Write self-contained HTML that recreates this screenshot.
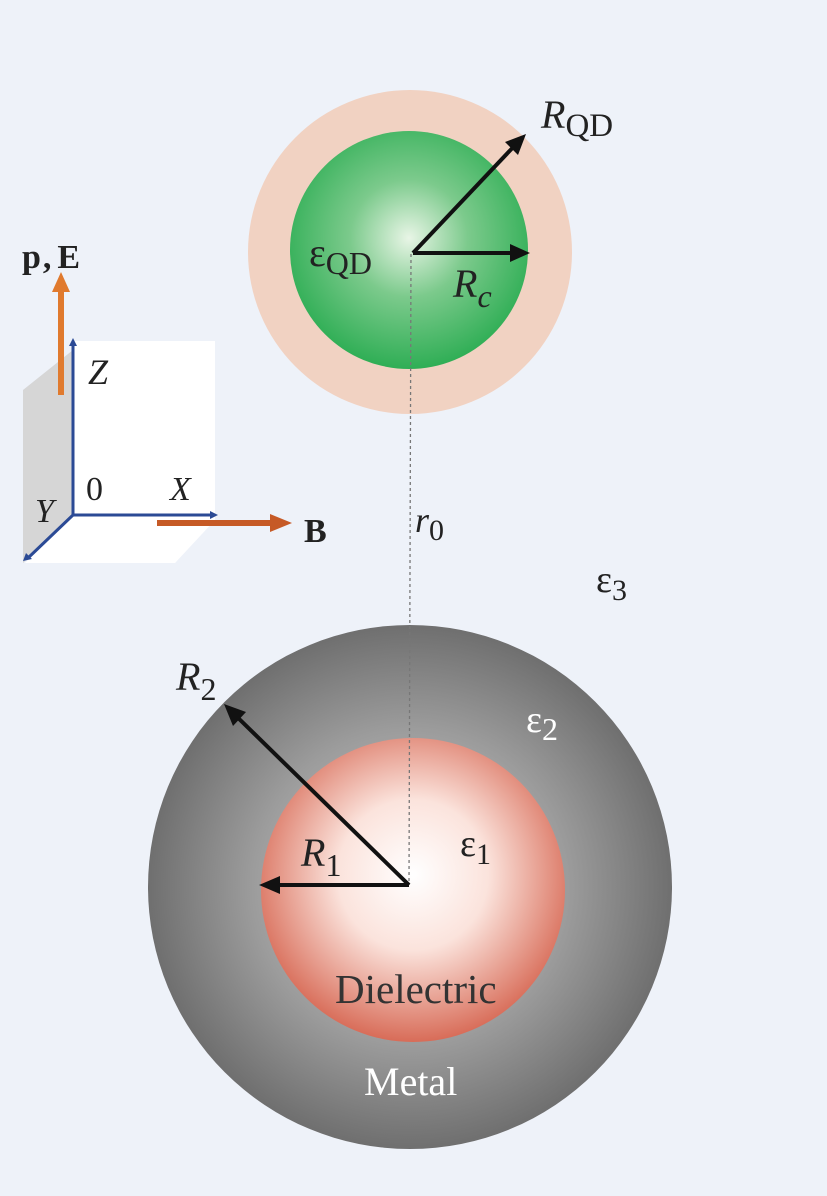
<!DOCTYPE html>
<html><head><meta charset="utf-8"><style>
html,body{margin:0;padding:0;background:#eef2f9;}
svg{display:block;}
text{font-family:"Liberation Serif",serif;}
</style></head><body>
<svg width="827" height="1196" viewBox="0 0 827 1196" xmlns="http://www.w3.org/2000/svg">
<defs>
<radialGradient id="g" cx="0.5" cy="0.45" r="0.55">
<stop offset="0" stop-color="#e8f5e6"/><stop offset="0.45" stop-color="#7cca8c"/><stop offset="1" stop-color="#2fae55"/>
</radialGradient>
<radialGradient id="gr" cx="0.5" cy="0.5" r="0.5">
<stop offset="0" stop-color="#d0d0d0"/><stop offset="0.6" stop-color="#9c9c9c"/><stop offset="1" stop-color="#6f6f6f"/>
</radialGradient>
<radialGradient id="rd" cx="0.5" cy="0.45" r="0.55">
<stop offset="0" stop-color="#ffffff"/><stop offset="0.45" stop-color="#fbe3dc"/><stop offset="1" stop-color="#d86c58"/>
</radialGradient>
<marker id="ab" markerWidth="8" markerHeight="8" refX="6" refY="4" orient="auto" markerUnits="userSpaceOnUse" viewBox="0 0 8 8"><path d="M0,0 L8,4 L0,8 L2,4z" fill="#111"/></marker>
</defs>
<polygon points="73,341 215,341 215,520 175,563 73,563" fill="#ffffff"/>
<polygon points="23,390 73,350 73,515 23,563" fill="#d6d6d6"/>
<polygon points="73,515 215,515 175,563 25,563" fill="#ffffff"/>
<g stroke="#2b4a95" stroke-width="3" fill="none">
<line x1="73" y1="515" x2="73" y2="343"/>
<line x1="73" y1="515" x2="213" y2="515"/>
<line x1="73" y1="515" x2="28" y2="558"/>
</g>
<path d="M69,346 L73,338 L77,346z M210,511 L218,515 L210,519z M26,553 L23,561 L32,559z" fill="#2b4a95"/>
<line x1="61" y1="395" x2="61" y2="290" stroke="#e07a2e" stroke-width="6"/>
<path d="M52,292 L61,272 L70,292z" fill="#e07a2e"/>
<line x1="157" y1="523" x2="272" y2="523" stroke="#c65a26" stroke-width="6"/>
<path d="M270,514 L292,523 L270,532z" fill="#c65a26"/>
<text x="22" y="268" font-size="34" font-weight="bold" fill="#222">p<tspan dx="2">,</tspan><tspan dx="6">E</tspan></text>
<text x="88" y="384" font-size="36" font-style="italic" fill="#222">Z</text>
<text x="86" y="500" font-size="34" fill="#222">0</text>
<text x="170" y="500" font-size="34" font-style="italic" fill="#222">X</text>
<text x="35" y="522" font-size="34" font-style="italic" fill="#222">Y</text>
<text x="304" y="542" font-size="34" font-weight="bold" fill="#222">B</text>
<circle cx="410" cy="252" r="162" fill="#f1d2c2"/>
<circle cx="409" cy="250" r="119" fill="url(#g)"/>
<circle cx="410" cy="887" r="262" fill="url(#gr)"/>
<circle cx="413" cy="890" r="152" fill="url(#rd)"/>
<line x1="411" y1="254" x2="409" y2="885" stroke="#777" stroke-width="1.3" stroke-dasharray="3,3"/>
<g stroke="#111" stroke-width="4" fill="none">
<line x1="413" y1="253" x2="519" y2="141" marker-end="url(#ab)"/>
<line x1="413" y1="253" x2="522" y2="253" marker-end="url(#ab)"/>
<line x1="409" y1="885" x2="231" y2="711" marker-end="url(#ab)"/>
<line x1="409" y1="885" x2="268" y2="885" marker-end="url(#ab)"/>
</g>
<path d="M526,134 L505,142 L518,155z M530,253 L510,244 L510,262z M224,704 L233,726 L246,712z M259,885 L280,876 L280,894z" fill="#111"/>
<text x="541" y="128" font-size="40" font-style="italic" fill="#222">R<tspan font-style="normal" font-size="33" dy="8">QD</tspan></text>
<text x="309" y="266" font-size="40" fill="#222">ε<tspan font-size="32" dy="8">QD</tspan></text>
<text x="453" y="297" font-size="40" font-style="italic" fill="#222">R<tspan font-size="32" dy="10">c</tspan></text>
<text x="415" y="532" font-size="36" font-style="italic" fill="#222">r<tspan font-style="normal" font-size="30" dy="8">0</tspan></text>
<text x="596" y="592" font-size="38" fill="#222">ε<tspan font-size="30" dy="8">3</tspan></text>
<text x="176" y="690" font-size="40" font-style="italic" fill="#222">R<tspan font-style="normal" font-size="32" dy="10">2</tspan></text>
<text x="526" y="732" font-size="38" fill="#fff">ε<tspan font-size="32" dy="8">2</tspan></text>
<text x="301" y="866" font-size="40" font-style="italic" fill="#222">R<tspan font-style="normal" font-size="32" dy="10">1</tspan></text>
<text x="460" y="856" font-size="38" fill="#222">ε<tspan font-size="30" dy="8">1</tspan></text>
<text x="335" y="1003" font-size="41" fill="#333">Dielectric</text>
<text x="364" y="1095" font-size="40" fill="#fff">Metal</text>
</svg>
</body></html>
